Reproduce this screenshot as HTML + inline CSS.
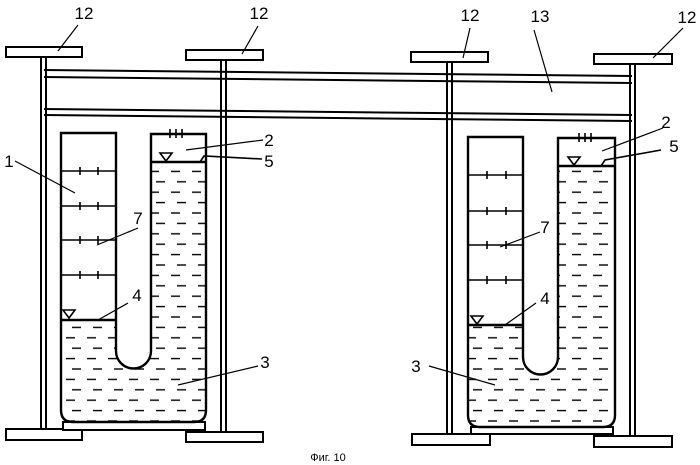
<!DOCTYPE html>
<html><head><style>html,body{margin:0;padding:0;background:#fff;}svg{display:block}</style></head>
<body>
<svg width="700" height="465" viewBox="0 0 700 465" xmlns="http://www.w3.org/2000/svg" font-family="Liberation Sans, sans-serif">
<defs>
<pattern id="w" x="0" y="0" width="21" height="20.8" patternUnits="userSpaceOnUse">
<line x1="3" y1="5" x2="12" y2="5" stroke="#000" stroke-width="1.4"/>
<line x1="9" y1="15.4" x2="18" y2="15.4" stroke="#000" stroke-width="1.4"/>
</pattern>
<pattern id="w2" x="0" y="0" width="21" height="20.8" patternUnits="userSpaceOnUse">
<line x1="5" y1="5" x2="14" y2="5" stroke="#000" stroke-width="1.4"/>
<line x1="11" y1="15.4" x2="20" y2="15.4" stroke="#000" stroke-width="1.4"/>
</pattern>
</defs>
<g fill="none" stroke="#000" stroke-width="2">
<line x1="44" y1="70" x2="632" y2="76"/>
<line x1="44" y1="77" x2="632" y2="83"/>
<line x1="44" y1="109" x2="632" y2="115"/>
<line x1="44" y1="115" x2="632" y2="121"/>
<!-- LEFT UNIT -->
<rect x="6" y="47" width="76" height="10" fill="#fff"/>
<rect x="186" y="50" width="77" height="10" fill="#fff"/>
<line x1="41" y1="57" x2="41" y2="429"/><line x1="46" y1="57" x2="46" y2="429"/>
<line x1="221" y1="60" x2="221" y2="432"/><line x1="226" y1="60" x2="226" y2="432"/>
<rect x="6" y="429" width="76" height="11" fill="#fff"/>
<rect x="186" y="432" width="77" height="10" fill="#fff"/>
<rect x="63" y="422" width="142" height="8" fill="#fff"/>
<path d="M61,320 H116 V351 A17.5,17.5 0 0 0 151,351 V162 H206 V410 Q206,422 194,422 H73 Q61,422 61,410 Z" fill="url(#w)" stroke="none"/>
<path d="M61,133 H116 V351 A17.5,17.5 0 0 0 151,351 V134 H206 V410 Q206,422 194,422 H73 Q61,422 61,410 Z" stroke-width="2.4"/>
<line x1="61" y1="320" x2="116" y2="320" stroke-width="2.4"/>
<line x1="151" y1="162" x2="206" y2="162" stroke-width="2.4"/>
<g stroke-width="1.6">
<line x1="61" y1="171" x2="116" y2="171"/><line x1="61" y1="206" x2="116" y2="206"/><line x1="61" y1="240" x2="116" y2="240"/><line x1="61" y1="275" x2="116" y2="275"/>
<path d="M80,167v8M98,167v8M80,202v8M98,202v8M80,236v8M98,236v8M80,271v8M98,271v8"/>
<path d="M170,129v9M176,129v9M182,129v9M164,134h6"/>
<path d="M160,153h12l-6,8z"/>
<path d="M63,310h12l-6,8z"/>
<path d="M200,162 l4,-6 l58,3"/>
</g>
<!-- RIGHT UNIT -->
<rect x="411" y="52" width="77" height="10" fill="#fff"/>
<rect x="594" y="54" width="78" height="10" fill="#fff"/>
<line x1="447" y1="62" x2="447" y2="434"/><line x1="452" y1="62" x2="452" y2="434"/>
<line x1="630" y1="64" x2="630" y2="436"/><line x1="635" y1="64" x2="635" y2="436"/>
<rect x="412" y="434" width="78" height="11" fill="#fff"/>
<rect x="594" y="436" width="78" height="11" fill="#fff"/>
<rect x="471" y="427" width="142" height="7" fill="#fff"/>
<path d="M468,325 H523 V357 A17.5,17.5 0 0 0 558,357 V166 H615 V415 Q615,427 603,427 H480 Q468,427 468,415 Z" fill="url(#w2)" stroke="none"/>
<path d="M468,137 H523 V357 A17.5,17.5 0 0 0 558,357 V138 H615 V415 Q615,427 603,427 H480 Q468,427 468,415 Z" stroke-width="2.4"/>
<line x1="468" y1="325" x2="523" y2="325" stroke-width="2.4"/>
<line x1="558" y1="166" x2="615" y2="166" stroke-width="2.4"/>
<g stroke-width="1.6">
<line x1="468" y1="175" x2="523" y2="175"/><line x1="468" y1="211" x2="523" y2="211"/><line x1="468" y1="245" x2="523" y2="245"/><line x1="468" y1="280" x2="523" y2="280"/>
<path d="M487,171v8M506,171v8M487,207v8M506,207v8M487,241v8M506,241v8M487,276v8M506,276v8"/>
<path d="M579,133v9M585,133v9M591,133v9M573,138h6"/>
<path d="M568,157h12l-6,8z"/>
<path d="M471,316h12l-6,8z"/>
<path d="M601,166 l4,-6 l56,-10"/>
</g>
<g stroke-width="1.2">
<path d="M58,51 L78,25"/><path d="M242,54 L258,26"/>
<path d="M463,58 L470,28"/><path d="M653,58 L683,28"/>
<path d="M552,92 L534,30"/>
<path d="M15,161 L75,193"/>
<path d="M186,150 L263,140"/>
<path d="M97,245 L138,228"/>
<path d="M98,320 L128,303"/>
<path d="M178,385 L258,366"/>
<path d="M602,151 L663,128"/>
<path d="M500,247 L540,232"/>
<path d="M505,325 L536,303"/>
<path d="M495,385 L429,366"/>
</g>
</g>
<g font-size="17" fill="#000" text-anchor="middle">
<text x="84" y="19">12</text><text x="259" y="19">12</text>
<text x="470" y="21">12</text><text x="687" y="23">12</text>
<text x="540" y="22">13</text>
<text x="9" y="167">1</text>
<text x="269" y="146">2</text><text x="269" y="167">5</text>
<text x="138" y="224">7</text>
<text x="137" y="301">4</text>
<text x="265" y="368">3</text>
<text x="666" y="128">2</text><text x="674" y="152">5</text>
<text x="545" y="233">7</text>
<text x="545" y="304">4</text>
<text x="416" y="372">3</text>
</g>
<text x="328" y="461" font-size="11" text-anchor="middle">Фиг. 10</text>
</svg>
</body></html>
